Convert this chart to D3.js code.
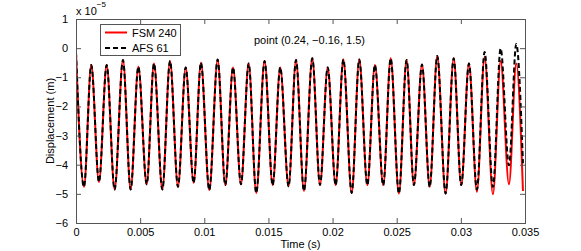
<!DOCTYPE html>
<html>
<head>
<meta charset="utf-8">
<script src="https://cdn.jsdelivr.net/npm/d3@7"></script>
<style>
    body { margin: 0; background: #fff; }
    svg { display: block; font-family: 'Liberation Sans', Arial, sans-serif; }
</style>
</head>
<body>
<svg id="canvas" width="581" height="251"></svg>
<script>
// times of the peaks / troughs (s)
let times = [0, 0.00062, 0.00119, 0.00179, 0.00239, 0.00301, 0.00366, 0.00426, 0.00486, 0.00551,
    0.00608, 0.00673, 0.00733, 0.00795, 0.00855, 0.00917, 0.00974, 0.01039, 0.01104, 0.01164,
    0.01224, 0.01286, 0.01346, 0.01405, 0.01470, 0.01533, 0.01592, 0.01657, 0.01715, 0.01777,
    0.01842, 0.01902, 0.01962, 0.02024, 0.02084, 0.02149, 0.02208, 0.02271, 0.02330, 0.02395,
    0.02453, 0.02517, 0.02577, 0.02634, 0.02697, 0.02757, 0.02816, 0.02881, 0.02944, 0.03003,
    0.03063, 0.03125, 0.03185, 0.03250, 0.03310, 0.03375, 0.03432, 0.03484]

// displacement in units of 1e-5 m
let fsm240 = [-0.15, -4.76, -0.58, -4.59, -0.58, -4.85, -0.41, -4.85, -0.64, -4.67,
    -0.53, -4.85, -0.44, -4.76, -0.66, -4.62, -0.50, -4.87, -0.39, -4.70,
    -0.66, -4.67, -0.53, -4.97, -0.44, -4.70, -0.66, -4.74, -0.41, -4.90,
    -0.35, -4.70, -0.66, -4.70, -0.39, -4.97, -0.39, -4.70, -0.58, -4.70,
    -0.35, -4.99, -0.41, -4.70, -0.56, -4.76, -0.27, -4.99, -0.35, -4.70,
    -0.53, -4.93, -0.30, -5.01, -0.44, -4.67, -0.53, -4.90]

let afs61 = [-0.15, -4.76, -0.58, -4.59, -0.58, -4.85, -0.41, -4.85, -0.64, -4.67,
    -0.53, -4.85, -0.44, -4.76, -0.66, -4.62, -0.50, -4.87, -0.39, -4.70,
    -0.66, -4.67, -0.53, -4.97, -0.44, -4.70, -0.66, -4.74, -0.41, -4.90,
    -0.35, -4.70, -0.66, -4.70, -0.39, -4.97, -0.39, -4.70, -0.58, -4.70,
    -0.35, -4.99, -0.41, -4.70, -0.56, -4.76, -0.27, -4.99, -0.35, -4.70,
    -0.53, -4.85, -0.13, -4.76, -0.01, -4.02, 0.14, -3.95]

let xTicks = [0, 0.005, 0.01, 0.015, 0.02, 0.025, 0.03, 0.035]
let yTicks = [1, 0, -1, -2, -3, -4, -5, -6]
let seriesNames = ['FSM 240', 'AFS 61']

let plotLeft = 76, plotRight = 525, plotTop = 19, plotBottom = 223
let axisColor = '#555'

let canvas = d3.select('#canvas')

let x = d3.scaleLinear().domain([0, 0.035]).range([plotLeft, plotRight])
let y = d3.scaleLinear().domain([-6, 1]).range([plotBottom, plotTop])

let fmtY = d => d < 0 ? '\u2212' + Math.abs(d) : String(d)
let fmtX = d => d === 0 ? '0' : String(d)

canvas.append('clipPath').attr('id', 'clip')
    .append('rect')
    .attr('x', plotLeft).attr('y', plotTop)
    .attr('width', plotRight - plotLeft).attr('height', plotBottom - plotTop)

let line = (values) => d3.line()
    .x((d, i) => x(times[i]))
    .y(d => y(d))
    .curve(d3.curveMonotoneX)(values)

let plot = canvas.append('g').attr('clip-path', 'url(#clip)')

plot.append('path')
    .attr('d', line(fsm240))
    .attr('fill', 'none')
    .attr('stroke', '#ff0000')
    .attr('stroke-width', 2)

plot.append('path')
    .attr('d', line(afs61))
    .attr('fill', 'none')
    .attr('stroke', '#000')
    .attr('stroke-width', 2)
    .attr('stroke-dasharray', '5,3')

// axes: inward ticks on all four sides, like matlab
let styleAxis = (g) => {
    g.select('.domain').remove()
    g.selectAll('line').attr('stroke', axisColor)
    g.selectAll('text').attr('fill', '#000').style('font-size', '11px')
}

canvas.append('g')
    .attr('transform', `translate(0,${plotBottom})`)
    .call(d3.axisBottom(x).tickValues(xTicks).tickFormat(fmtX).tickSizeInner(-5).tickSizeOuter(0).tickPadding(5))
    .call(styleAxis)

canvas.append('g')
    .attr('transform', `translate(0,${plotTop})`)
    .call(d3.axisTop(x).tickValues(xTicks).tickFormat('').tickSizeInner(-5).tickSizeOuter(0))
    .call(styleAxis)

canvas.append('g')
    .attr('transform', `translate(${plotLeft},0)`)
    .call(d3.axisLeft(y).tickValues(yTicks).tickFormat(fmtY).tickSizeInner(-5).tickSizeOuter(0).tickPadding(8))
    .call(styleAxis)

canvas.append('g')
    .attr('transform', `translate(${plotRight},0)`)
    .call(d3.axisRight(y).tickValues(yTicks).tickFormat('').tickSizeInner(-5).tickSizeOuter(0))
    .call(styleAxis)

canvas.append('rect')
    .attr('x', plotLeft + 0.5).attr('y', plotTop + 0.5)
    .attr('width', plotRight - plotLeft).attr('height', plotBottom - plotTop)
    .attr('fill', 'none')
    .attr('stroke', axisColor)

// exponent label
let expo = canvas.append('text')
    .attr('x', plotLeft)
    .attr('y', 15)
    .style('font-size', '11px')
expo.append('tspan').text('x 10')
expo.append('tspan').attr('dy', -8).style('font-size', '8px').text('\u22125')

canvas.append('text')
    .attr('transform', `translate(54,${(plotTop + plotBottom) / 2}) rotate(-90)`)
    .attr('text-anchor', 'middle')
    .style('font-size', '11px')
    .text('Displacement (m)')

canvas.append('text')
    .attr('x', (plotLeft + plotRight) / 2)
    .attr('y', 248)
    .attr('text-anchor', 'middle')
    .style('font-size', '11px')
    .text('Time (s)')

canvas.append('text')
    .attr('x', 309.5)
    .attr('y', 43.5)
    .attr('text-anchor', 'middle')
    .style('font-size', '11px')
    .text('point (0.24, \u22120.16, 1.5)')

// legend
let legend = canvas.append('g')
legend.append('rect')
    .attr('x', 100.5).attr('y', 24.5)
    .attr('width', 80).attr('height', 31)
    .attr('fill', '#fff')
    .attr('stroke', axisColor)

legend.selectAll('line')
    .data(seriesNames)
    .enter()
    .append('line')
    .attr('x1', 105).attr('x2', 127)
    .attr('y1', (d, i) => 32.5 + i * 15.5)
    .attr('y2', (d, i) => 32.5 + i * 15.5)
    .attr('stroke', (d, i) => i === 0 ? '#ff0000' : '#000')
    .attr('stroke-width', 2)
    .attr('stroke-dasharray', (d, i) => i === 0 ? null : '5,3')

legend.selectAll('text')
    .data(seriesNames)
    .enter()
    .append('text')
    .attr('x', 132)
    .attr('y', (d, i) => 36.5 + i * 15.5)
    .style('font-size', '11px')
    .text(d => d)
</script>
</body>
</html>
